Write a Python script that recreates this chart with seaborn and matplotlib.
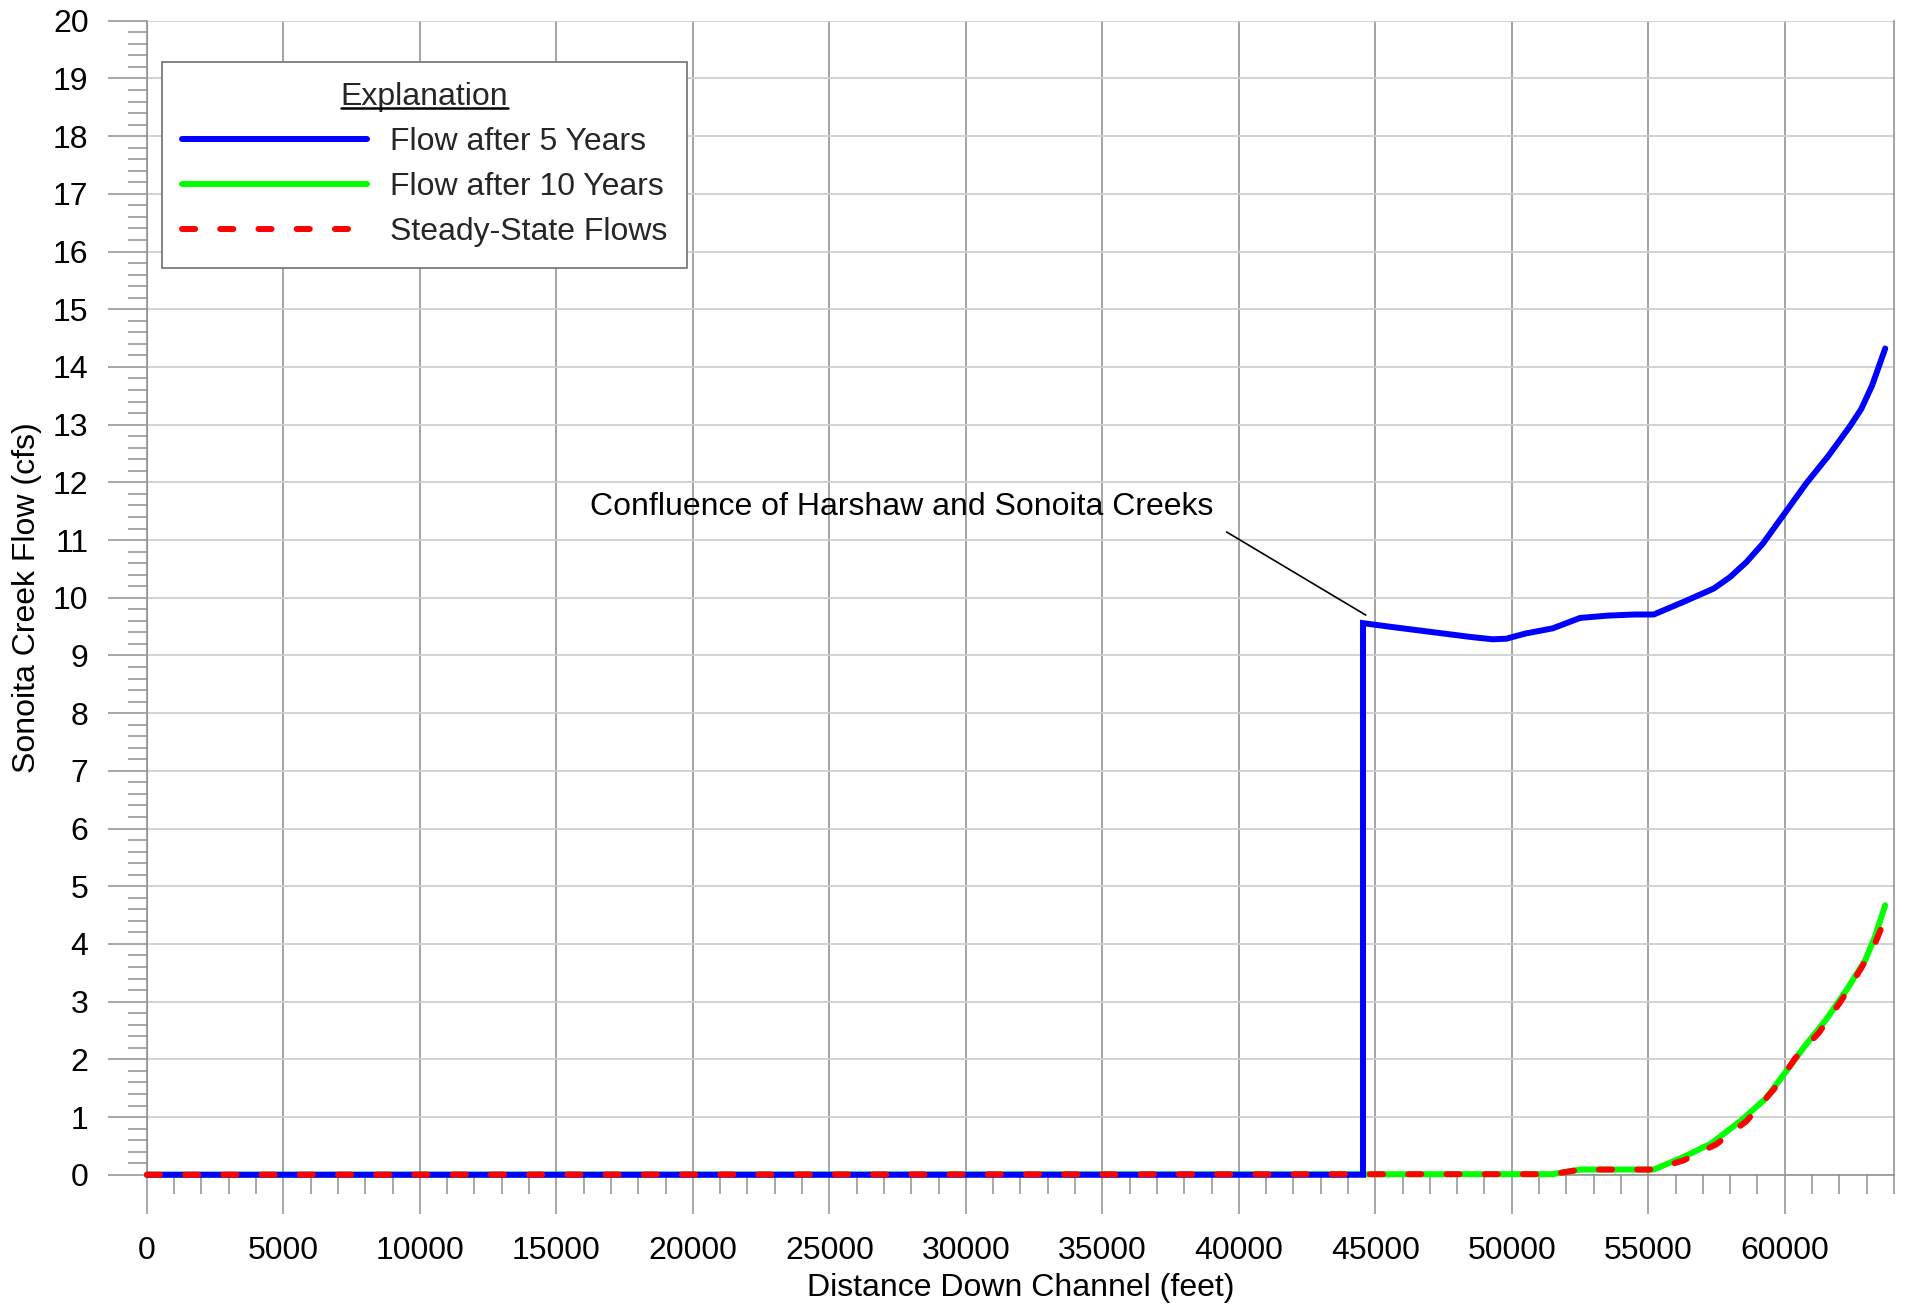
import numpy as np
import matplotlib
matplotlib.use("Agg")
import matplotlib.pyplot as plt
from matplotlib.lines import Line2D
from matplotlib.ticker import MultipleLocator
import seaborn as sns
import pandas as pd

# Flow after 5 years (blue)
x_5yr = [0, 44550, 44550, 45500, 46500, 47500, 48500, 49300, 49800, 50500, 51500,
         52500, 53500, 54500, 55200, 56300, 57400, 58000, 58600, 59200, 59900,
         60800, 61600, 62400, 62800, 63200, 63680]
y_5yr = [0, 0, 9.56, 9.50, 9.44, 9.38, 9.32, 9.28, 9.29, 9.38, 9.47,
         9.65, 9.69, 9.71, 9.71, 9.93, 10.16, 10.36, 10.62, 10.94, 11.40,
         11.99, 12.46, 12.98, 13.27, 13.68, 14.32]

# Flow after 10 years (green)
x_10yr = [0, 51500, 52500, 55200, 56300, 57300, 58400, 59300, 60000, 60750,
          61500, 62300, 62950, 63300, 63680]
y_10yr = [0, 0.01, 0.09, 0.09, 0.31, 0.54, 0.94, 1.32, 1.76, 2.24,
          2.68, 3.23, 3.72, 4.12, 4.67]

# Steady-state flows (red dashed)
x_ss = [0, 51500, 52500, 55200, 56300, 57500, 58600, 59600, 60400, 61250,
        62100, 62800, 63300, 63600]
y_ss = [0, 0.01, 0.09, 0.09, 0.25, 0.53, 0.93, 1.48, 2.03, 2.46,
        3.04, 3.58, 4.00, 4.35]

labels = ["Flow after 5 Years", "Flow after 10 Years", "Steady-State Flows"]

sns.set_theme(style="white")
plt.rcParams["font.family"] = ["Liberation Sans", "DejaVu Sans"]
FS = 23

fig = plt.figure(figsize=(19.1, 13.06), dpi=100)
ax = fig.add_axes([0.0769, 0.1005, 0.9147, 0.8836])

LW = 4.3
DASH = (0, (2.2, 4.2))
df10 = pd.DataFrame({"x": x_10yr, "y": y_10yr})
df5 = pd.DataFrame({"x": x_5yr, "y": y_5yr})
dfss = pd.DataFrame({"x": x_ss, "y": y_ss})

sns.lineplot(data=df10, x="x", y="y", ax=ax, color="#00ff00", lw=LW,
             estimator=None, sort=False, clip_on=False, zorder=3,
             solid_capstyle="round")
sns.lineplot(data=df5, x="x", y="y", ax=ax, color="#0000ff", lw=LW,
             estimator=None, sort=False, clip_on=False, zorder=4,
             solid_capstyle="round", solid_joinstyle="miter")
sns.lineplot(data=dfss, x="x", y="y", ax=ax, color="#ff0000", lw=LW,
             estimator=None, sort=False, clip_on=False, zorder=5,
             linestyle=DASH, dash_capstyle="round")

ax.set_xlim(0, 64000)
ax.set_ylim(0, 20)
ax.xaxis.set_major_locator(MultipleLocator(5000))
ax.xaxis.set_minor_locator(MultipleLocator(1000))
ax.yaxis.set_major_locator(MultipleLocator(1))
ax.yaxis.set_minor_locator(MultipleLocator(0.2))
ax.set_xticks(np.arange(0, 60001, 5000))
ax.set_xticklabels([str(v) for v in range(0, 60001, 5000)])

ax.set_axisbelow(True)
ax.xaxis.grid(True, which="major", color="#8c8c8c", lw=1.1)
ax.yaxis.grid(True, which="major", color="#cfcfcf", lw=1.3)

for side in ["left", "bottom", "right"]:
    ax.spines[side].set_visible(True)
    ax.spines[side].set_color("#8c8c8c")
    ax.spines[side].set_linewidth(1.1)
ax.spines["top"].set_visible(False)

ax.tick_params(axis="both", which="major", direction="out", length=28,
               width=1.1, color="#909090", labelsize=FS, labelcolor="black")
ax.tick_params(axis="both", which="minor", direction="out", length=14,
               width=1.1, color="#909090")
ax.tick_params(axis="x", which="major", pad=16, bottom=True)
ax.tick_params(axis="x", which="minor", bottom=True)
ax.tick_params(axis="y", which="major", pad=14, left=True)
ax.tick_params(axis="y", which="minor", left=True)

ax.set_xlabel("Distance Down Channel (feet)", fontsize=FS, labelpad=5, color="black")
ax.set_ylabel("Sonoita Creek Flow (cfs)", fontsize=FS, labelpad=8, color="black")

# annotation for the confluence
ax.text(16241, 11.57, "Confluence of Harshaw and Sonoita Creeks", fontsize=FS,
        ha="left", va="center", color="black")
ax.annotate("", xy=(44650, 9.70), xytext=(39553, 11.14),
            arrowprops=dict(arrowstyle="-", lw=1.2, color="black",
                            shrinkA=0, shrinkB=0))

handles = [
    Line2D([], [], color="#0000ff", lw=LW, solid_capstyle="round"),
    Line2D([], [], color="#00ff00", lw=LW, solid_capstyle="round"),
    Line2D([], [], color="#ff0000", lw=LW, linestyle=DASH,
           dash_capstyle="round"),
]
leg = ax.legend(handles, labels, title="Explanation", loc="upper left",
                bbox_to_anchor=(0.0084, 0.9645), borderaxespad=0,
                fontsize=FS, title_fontsize=FS, handlelength=5.8,
                handletextpad=0.7, labelspacing=0.47, borderpad=0.64,
                fancybox=False, framealpha=1, edgecolor="#707070")
leg.get_frame().set_linewidth(1.2)
leg.set_zorder(10)

# underline the legend title
fig.canvas.draw()
renderer = fig.canvas.get_renderer()
bb = leg.get_title().get_window_extent(renderer)
W, H = fig.bbox.width, fig.bbox.height
uy = bb.y0 + 0.13 * FS * 100 / 72
fig.add_artist(Line2D([bb.x0 / W, bb.x1 / W], [uy / H, uy / H],
                      transform=fig.transFigure, color="black", lw=1.8, zorder=11))

fig.savefig("out.png", dpi=100)
